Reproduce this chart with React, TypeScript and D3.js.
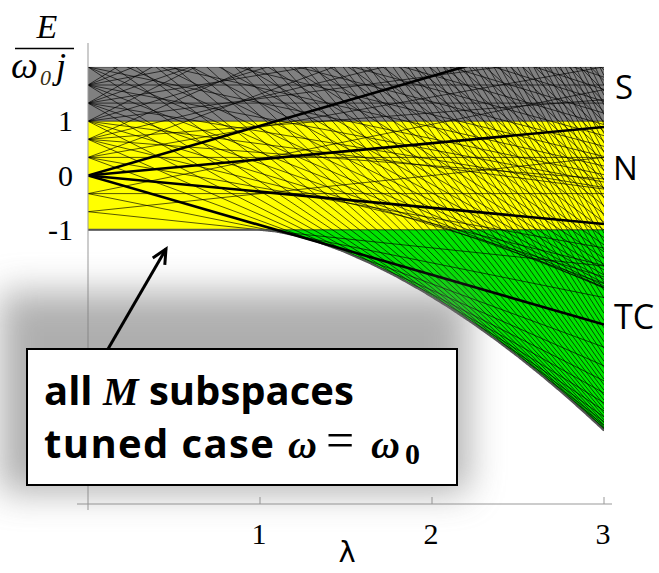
import React from "react";
import * as d3 from "d3";

// Tavis–Cummings model, tuned case (ω = ω0), spin j = 3.
const SPIN_J = 3;
const SUBSPACE_COUNT = 140; // excitation-number subspaces M = 0 … 139
const HIGHLIGHT_M = 3; // subspace drawn with heavy strokes
const LAMBDA_RANGE = [0, 3];
const ENERGY_TOP = 2;
const X_TICKS = [1, 2, 3];
const Y_TICKS = [1, 0, -1];
const BAND_NAMES = ["S", "N", "TC"];
const BAND_UPPER = [2, 1, -1];
const BAND_LOWER = [1, -1, null as number | null];

const BAND_FILLS = ["#808080", "#ffff00", "#00e400"];

const W = 659;
const H = 573;

// Eigenvalues of a small symmetric matrix (cyclic Jacobi rotations).
function symEigenvalues(src: number[][]): number[] {
  const n = src.length;
  const A = src.map((r) => r.slice());
  for (let sweep = 0; sweep < 60; sweep++) {
    let off = 0;
    for (let p = 0; p < n; p++) for (let q = p + 1; q < n; q++) off += A[p][q] * A[p][q];
    if (off < 1e-20) break;
    for (let p = 0; p < n; p++) {
      for (let q = p + 1; q < n; q++) {
        if (Math.abs(A[p][q]) < 1e-14) continue;
        const theta = (A[q][q] - A[p][p]) / (2 * A[p][q]);
        const t = (theta >= 0 ? 1 : -1) / (Math.abs(theta) + Math.sqrt(theta * theta + 1));
        const c = 1 / Math.sqrt(t * t + 1);
        const s = t * c;
        for (let k = 0; k < n; k++) {
          const akp = A[k][p], akq = A[k][q];
          A[k][p] = c * akp - s * akq;
          A[k][q] = s * akp + c * akq;
        }
        for (let k = 0; k < n; k++) {
          const apk = A[p][k], aqk = A[q][k];
          A[p][k] = c * apk - s * aqk;
          A[q][k] = s * apk + c * aqk;
        }
      }
    }
  }
  return A.map((r, i) => r[i]);
}

type Level = { M: number; e0: number; slope: number };

// Each subspace M has energies E/(ω0 j) = (M - j)/j + λ μ/j, straight lines in λ.
function spectrum(): Level[] {
  const j = SPIN_J;
  const out: Level[] = [];
  d3.range(SUBSPACE_COUNT).forEach((M) => {
    const mTop = Math.min(j, M - j);
    const ms = d3.range(mTop, -j - 1, -1);
    const dim = ms.length;
    const H0 = ms.map(() => new Array(dim).fill(0));
    for (let i = 0; i < dim - 1; i++) {
      const m = ms[i];
      const n = M - j - m;
      const g = (Math.sqrt(n + 1) * Math.sqrt(j * (j + 1) - m * (m - 1))) / Math.sqrt(2 * j);
      H0[i][i + 1] = g;
      H0[i + 1][i] = g;
    }
    symEigenvalues(H0).forEach((mu) => {
      out.push({ M, e0: (M - j) / j, slope: mu / j });
    });
  });
  return out.filter((l) => l.e0 + Math.min(0, LAMBDA_RANGE[1] * l.slope) <= ENERGY_TOP + 1e-9);
}

const LEVELS = spectrum();
const LAMBDA_GRID = d3.range(0, 3.00001, 0.005);
const ENVELOPE = LAMBDA_GRID.map((lam) => ({
  lam,
  e: d3.min(LEVELS, (l) => l.e0 + lam * l.slope) as number,
}));

export default function App() {
  const x = d3.scaleLinear().domain(LAMBDA_RANGE).range([88, 604]);
  const y = d3.scaleLinear().domain([-1, 2]).range([229.8, 66.9]);

  const thin = LEVELS.filter((l) => l.M !== HIGHLIGHT_M);
  const thick = LEVELS.filter((l) => l.M === HIGHLIGHT_M);
  const seg = (l: Level) => ({
    x1: x(LAMBDA_RANGE[0]),
    y1: y(l.e0 + LAMBDA_RANGE[0] * l.slope),
    x2: x(LAMBDA_RANGE[1]),
    y2: y(l.e0 + LAMBDA_RANGE[1] * l.slope),
  });

  const greenArea = d3
    .area<{ lam: number; e: number }>()
    .x((d) => x(d.lam))
    .y0(() => y(-1))
    .y1((d) => y(Math.min(d.e, -1)));
  const envLine = d3
    .line<{ lam: number; e: number }>()
    .x((d) => x(d.lam))
    .y((d) => y(d.e));

  const bottom = y(d3.min(ENVELOPE, (d) => d.e) as number) + 4;

  const arrowTip = [166, 249];
  const arrowTail = [108, 349];
  const ang = Math.atan2(arrowTip[1] - arrowTail[1], arrowTip[0] - arrowTail[0]);
  const head = 16;
  const spread = 0.45;
  const h1 = [arrowTip[0] - head * Math.cos(ang - spread), arrowTip[1] - head * Math.sin(ang - spread)];
  const h2 = [arrowTip[0] - head * Math.cos(ang + spread), arrowTip[1] - head * Math.sin(ang + spread)];

  const serif = "'Liberation Serif', 'DejaVu Serif', serif";
  const sans = "'Open Sans', 'Liberation Sans', sans-serif";

  return (
    <svg width={W} height={H} style={{ position: "absolute", left: 0, top: 0, background: "#fff" }}>
      <defs>
        <clipPath id="plotClip">
          <rect x={x(0)} y={y(ENERGY_TOP)} width={x(3) - x(0)} height={bottom - y(ENERGY_TOP)} />
        </clipPath>
        <filter id="soft" x="-30%" y="-60%" width="160%" height="220%">
          <feGaussianBlur stdDeviation="18" />
        </filter>
      </defs>

      {/* energy bands */}
      <rect x={x(0)} y={y(BAND_UPPER[0])} width={x(3) - x(0)} height={y(BAND_LOWER[0] as number) - y(BAND_UPPER[0])} fill={BAND_FILLS[0]} />
      <rect x={x(0)} y={y(BAND_UPPER[1])} width={x(3) - x(0)} height={y(BAND_LOWER[1] as number) - y(BAND_UPPER[1])} fill={BAND_FILLS[1]} />
      <path d={greenArea(ENVELOPE) || ""} fill={BAND_FILLS[2]} />

      {/* spectral lines */}
      <g clipPath="url(#plotClip)">
        {thin.map((l, i) => (
          <line key={i} {...seg(l)} stroke="#000" strokeOpacity={0.78} strokeWidth={0.85} />
        ))}
        <path d={envLine(ENVELOPE) || ""} fill="none" stroke="#555" strokeWidth={2} />
        {thick.map((l, i) => (
          <line key={"t" + i} {...seg(l)} stroke="#000" strokeWidth={2.6} />
        ))}
      </g>

      {/* axes */}
      <line x1={88} y1={43} x2={88} y2={510} stroke="#999" strokeWidth={1} />
      <line x1={77} y1={504} x2={612} y2={504} stroke="#999" strokeWidth={1} />
      {X_TICKS.map((t) => (
        <g key={t}>
          <line x1={x(t)} x2={x(t)} y1={504} y2={497} stroke="#999" />
          <text x={x(t) - 1} y={544} textAnchor="middle" fontFamily={serif} fontSize={30}>
            {t}
          </text>
        </g>
      ))}
      {Y_TICKS.map((t) => (
        <text key={t} x={73} y={y(t) + 10} textAnchor="end" fontFamily={serif} fontSize={30}>
          {t}
        </text>
      ))}
      <text x={347} y={562} textAnchor="middle" fontFamily="'DejaVu Sans', sans-serif" fontSize={29}>
        λ
      </text>

      {/* y-axis title */}
      <text x={47} y={38} textAnchor="middle" fontFamily={serif} fontStyle="italic" fontSize={34}>
        E
      </text>
      <line x1={15} x2={74} y1={48.5} y2={48.5} stroke="#000" strokeWidth={1.6} />
      <text x={11} y={78} fontFamily={serif} fontStyle="italic" fontSize={38}>
        ω
      </text>
      <text x={40} y={85} fontFamily={serif} fontStyle="italic" fontSize={22} fill="#3a2f10">
        0
      </text>
      <text x={56} y={78} fontFamily={serif} fontStyle="italic" fontSize={36}>
        j
      </text>

      {/* band names */}
      <text x={615} y={99} fontFamily={sans} fontSize={33}>
        {BAND_NAMES[0]}
      </text>
      <text x={613} y={180} fontFamily={sans} fontSize={33}>
        {BAND_NAMES[1]}
      </text>
      <text x={614} y={329} fontFamily={sans} fontSize={34}>
        {BAND_NAMES[2]}
      </text>

      {/* annotation */}
      <rect x={0} y={292} width={468} height={200} fill="#7a7a7a" opacity={0.6} filter="url(#soft)" />
      <line x1={arrowTail[0]} y1={arrowTail[1]} x2={arrowTip[0]} y2={arrowTip[1]} stroke="#000" strokeWidth={3} />
      <path d={`M${h1[0]},${h1[1]} L${arrowTip[0]},${arrowTip[1]} L${h2[0]},${h2[1]}`} fill="none" stroke="#000" strokeWidth={3} strokeLinejoin="miter" />
      <rect x={27} y={349} width={430} height={136} fill="#fff" stroke="#000" strokeWidth={2} />
      <text x={44} y={405} fontFamily={sans} fontWeight={700} fontSize={40}>
        all{" "}
        <tspan fontFamily={serif} fontStyle="italic" fontWeight={700}>
          M
        </tspan>{" "}
        subspaces
      </text>
      <text x={44} y={458} fontFamily={sans} fontWeight={700} fontSize={40} textLength={230} lengthAdjust="spacing">
        tuned case
      </text>
      <text y={458} fontFamily={serif} fontWeight={700}>
        <tspan x={288} fontStyle="italic" fontSize={40}>
          ω
        </tspan>
        <tspan x={326} fontWeight={400} fontSize={50} dy={-1}>
          =
        </tspan>
        <tspan x={371} dy={1} fontStyle="italic" fontSize={40}>
          ω
        </tspan>
        <tspan x={405} dy={6} fontSize={30}>
          0
        </tspan>
      </text>
    </svg>
  );
}
